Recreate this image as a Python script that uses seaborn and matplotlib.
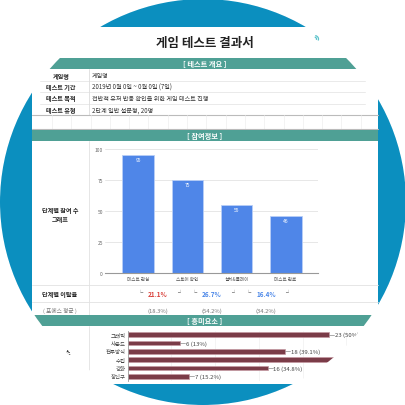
import numpy as np
import matplotlib
matplotlib.use('Agg')
import matplotlib.pyplot as plt
from matplotlib.patches import Circle, Rectangle, Arc
import seaborn as sns
import pandas as pd

# 테스트 개요
overview_labels = ['게임명', '테스트 기간', '테스트 목적', '테스트 유형']
overview_values = ['게임명', '2019년 0월 0일 ~ 0월 0일 (7일)',
                   '전반적 유저 반응 확인을 위한 게임 테스트 진행', '2단계 일반 설문형, 20명']

# 참여정보 (단계별 참여 수)
stage_names = ['테스트 관심', '스토어 확인', '설치&플레이', '테스트 완료']
stage_counts = [95, 75, 55, 46]
drop_rates = ['21.1%', '26.7%', '16.4%']
drop_colors = ['#d9413b', '#4a86e8', '#4a86e8']
avg_rates = ['(18.3%)', '(54.2%)', '(34.2%)']

# 흥미요소
interest_names = ['그래픽', '사운드', '전투방식', '수집', '강화', '장신구']
interest_counts = [23, 6, 18, 25, 16, 7]
interest_labels = ['23 (50%)', '6 (13%)', '18 (39.1%)', '25 (54.3%)', '16 (34.8%)', '7 (15.2%)']

sns.set_style('white')
plt.rcParams['font.family'] = ['Noto Sans CJK KR', 'DejaVu Sans']

W = 406
fig = plt.figure(figsize=(4.06, 4.06), dpi=100, facecolor='white')
ax = fig.add_axes([0, 0, 1, 1])
ax.set_xlim(0, W)
ax.set_ylim(W, 0)
ax.axis('off')

# 파란 원 배경
ax.add_patch(Circle((203, 203), 203, color='#0b8fbf', zorder=0))


def txt(x, y, s, **kw):
    return ax.text(x, y, s, **kw)


def line(xs, ys, color='#dddddd', lw=0.6, z=2):
    ax.plot(xs, ys, color=color, lw=lw, zorder=z)


def band(y0, y1, title):
    ax.add_patch(Rectangle((32, y0), 346, y1 - y0, facecolor='#4fa095', edgecolor='none', zorder=3))
    txt(205, (y0 + y1) / 2, title, ha='center', va='center', color='white',
        fontsize=5.2, fontweight='bold', zorder=4)


def px_axes(x0, y0, x1, y1):
    return fig.add_axes([x0 / W, 1 - y1 / W, (x1 - x0) / W, (y1 - y0) / W])


# 문서 영역
ax.add_patch(Rectangle((32, 28), 346, 357, facecolor='white', edgecolor='none', zorder=1))

# 제목
txt(205, 43, '게임 테스트 결과서', ha='center', va='center', fontsize=9,
    fontweight='bold', color='#222222', zorder=4)
for w in [5, 9]:
    ax.add_patch(Arc((314, 40), w, w * 0.8, theta1=-70, theta2=20, color='#5cc3cb', lw=0.9, zorder=4))

# [ 테스트 개요 ]
band(59, 70, '[ 테스트 개요 ]')
for i, (lab, val) in enumerate(zip(overview_labels, overview_values)):
    y = 76 + 11.5 * i
    txt(61, y, lab, ha='center', va='center', fontsize=4.4, fontweight='bold', color='#222222', zorder=4)
    txt(92, y, val, ha='left', va='center', fontsize=4.4, color='#333333', zorder=4)
    if i < 3:
        line([40, 365], [y + 5.7, y + 5.7], color='#e6e6e6')
line([89, 89], [70, 116], color='#dddddd')
line([32, 378], [116, 116], color='#bbbbbb', lw=0.8)
for gx in np.arange(52, 370, 19.3):
    line([gx, gx], [116, 130], color='#eeeeee', lw=0.5)
line([32, 378], [130, 130], color='#bbbbbb', lw=0.8)

# [ 참여정보 ]
band(131, 142, '[ 참여정보 ]')
line([89, 89], [142, 316], color='#e2e2e2')
txt(60, 215, '단계별 참여 수\n그래프', ha='center', va='center', fontsize=4.4,
    fontweight='bold', color='#222222', linespacing=1.3, zorder=4)

ax2 = px_axes(105, 150, 318, 274)
stage_df = pd.DataFrame({'stage': stage_names, 'count': stage_counts})
sns.barplot(data=stage_df, x='stage', y='count', color='#4f86e8', saturation=1,
            width=0.65, edgecolor='#b9cff7', linewidth=0.6, ax=ax2)
ax2.bar_label(ax2.containers[0], padding=-5, color='white', fontsize=3.6)
ax2.set_xlim(-0.68, 3.66)
ax2.set_ylim(0, 100)
ax2.set_yticks([0, 25, 50, 75, 100])
ax2.set_xlabel('')
ax2.set_ylabel('')
ax2.grid(axis='y', color='#e3e3e3', lw=0.6)
ax2.set_axisbelow(True)
ax2.patch.set_alpha(0)
for s in ['top', 'right', 'left']:
    ax2.spines[s].set_visible(False)
ax2.spines['bottom'].set_color('#999999')
ax2.spines['bottom'].set_linewidth(0.8)
ax2.tick_params(axis='y', labelsize=3.5, colors='#666666', length=0, pad=1.5)
ax2.tick_params(axis='x', labelsize=3.3, colors='#555555', length=0, pad=2)

line([32, 378], [286, 286], color='#e2e2e2')
line([32, 378], [303, 303], color='#e2e2e2')

# 단계별 이탈율
txt(60, 295, '단계별 이탈율', ha='center', va='center', fontsize=4.4, fontweight='bold', color='#222222', zorder=4)
rate_x = [158, 212, 266]
for x, r, c, avg in zip(rate_x, drop_rates, drop_colors, avg_rates):
    txt(x - 18, 293.5, '└', ha='center', va='center', fontsize=3.8, color='#777777', zorder=4)
    txt(x + 22, 293.5, '┘', ha='center', va='center', fontsize=3.8, color='#777777', zorder=4)
    txt(x, 295, r, ha='center', va='center', fontsize=4.6, fontweight='bold', color=c, zorder=4)
    txt(x, 311, avg, ha='center', va='center', fontsize=4.2, color='#777777', zorder=4)
txt(60, 311, '( 포에스 평균 )', ha='center', va='center', fontsize=4.1, color='#777777', zorder=4)

# [ 흥미요소 ]
band(316, 327, '[ 흥미요소 ]')
line([89, 89], [327, 385], color='#e2e2e2')
txt(60, 353, '흥미요소', ha='center', va='center', fontsize=4.4, fontweight='bold', color='#222222', zorder=4)

ax3 = px_axes(127.7, 331.5, 390.2, 381.5)
interest_df = pd.DataFrame({'name': interest_names, 'count': interest_counts})
sns.barplot(data=interest_df, y='name', x='count', orient='h', color='#7b3c48', saturation=1,
            width=0.58, edgecolor='#c59aa2', linewidth=0.5, ax=ax3)
ax3.set_xlim(0, 30)
ax3.set_ylim(5.5, -0.5)
ax3.set_xticks(range(5, 30, 5))
ax3.set_xticklabels([])
ax3.grid(axis='x', color='#ececec', lw=0.4)
ax3.set_axisbelow(True)
ax3.set_xlabel('')
ax3.set_ylabel('')
ax3.patch.set_alpha(0)
for s in ['top', 'right', 'bottom']:
    ax3.spines[s].set_visible(False)
ax3.spines['left'].set_color('#999999')
ax3.spines['left'].set_linewidth(0.6)
ax3.tick_params(axis='y', labelsize=3.9, colors='#444444', length=0, pad=1.5)
ax3.tick_params(axis='x', length=0)
for i, (v, lab) in enumerate(zip(interest_counts, interest_labels)):
    ax3.plot([v, v + 0.6], [i, i], color='#888888', lw=0.5)
    ax3.text(v + 0.65, i, lab, ha='left', va='center', fontsize=4.3, color='#444444')

# 원 바깥을 흰색으로 가림 (원형 마스크)
mask_ax = fig.add_axes([0, 0, 1, 1])
mask_ax.set_xlim(0, W)
mask_ax.set_ylim(W, 0)
mask_ax.axis('off')
ring_w = 100  # px
mask_ax.add_patch(Circle((203, 203), 203 + ring_w / 2, fill=False, edgecolor='white',
                         lw=ring_w * 72 / 100))

fig.savefig('out.png', dpi=100, facecolor='white')
